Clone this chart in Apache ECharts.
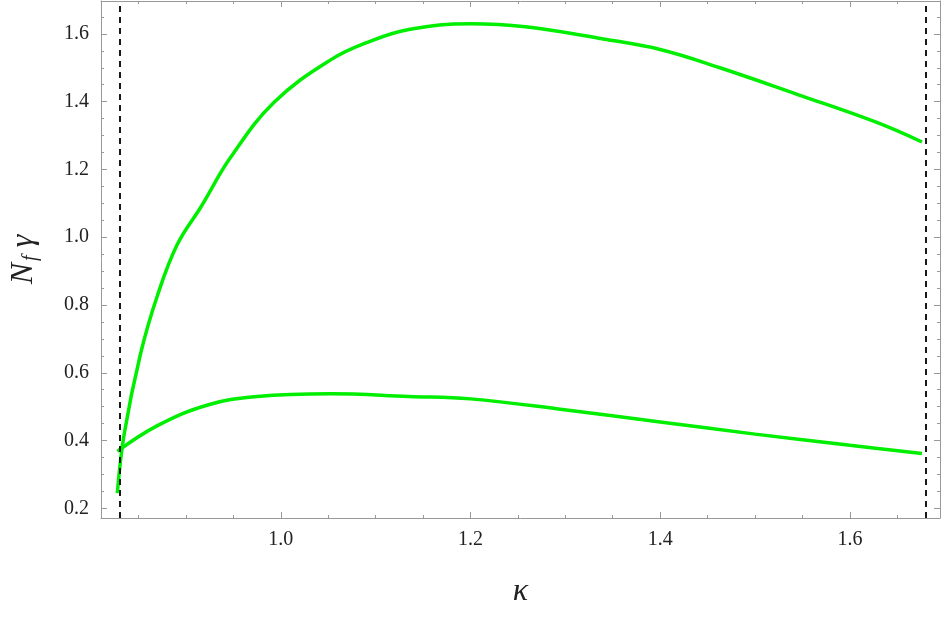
<!DOCTYPE html><html><head><meta charset="utf-8"><script src="https://cdn.jsdelivr.net/npm/echarts@6/dist/echarts.min.js"></script></head><body style="margin:0"><div id="c" style="width:941px;height:618px"></div><script>
const upper=[[0.8277,0.245],[0.835,0.42],[0.852,0.654],[0.870,0.828],[0.891,0.979],[0.916,1.090],[0.947,1.235],[0.993,1.398],[1.053,1.524],[1.094,1.578],[1.135,1.613],[1.2,1.630],[1.258,1.621],[1.34,1.585],[1.4,1.554],[1.463,1.500],[1.545,1.421],[1.627,1.340],[1.676,1.281]];
const lower=[[0.8277,0.368],[0.870,0.444],[0.923,0.505],[0.975,0.530],[1.053,0.538],[1.135,0.530],[1.2,0.523],[1.299,0.491],[1.4,0.455],[1.5,0.419],[1.6,0.386],[1.676,0.362]];
const vlines=[0.8277,1.676];
const xTicks=[1.0,1.2,1.4,1.6];
const yTicks=[0.2,0.4,0.6,0.8,1.0,1.2,1.4,1.6];
const xMinor=[0.85,0.9,0.95,1.05,1.1,1.15,1.25,1.3,1.35,1.45,1.5,1.55,1.65];
const yMinor=[0.25,0.3,0.35,0.45,0.5,0.55,0.65,0.7,0.75,0.85,0.9,0.95,1.05,1.1,1.15,1.25,1.3,1.35,1.45,1.5,1.55,1.65];
const f='Liberation Serif';
const lc={color:'#999'};
function mk(type,pos,min,max,major,minor,labels){
  return [
    {type:'value',position:pos,min,max,axisLine:{lineStyle:lc},splitLine:{show:false},
     axisTick:{inside:true,length:6,customValues:major,lineStyle:lc},
     axisLabel:labels?{customValues:major,fontFamily:f,fontSize:20,color:'#222',margin:12,formatter:v=>v.toFixed(1)}:{show:false}},
    {type:'value',position:pos,min,max,axisLine:{show:false},splitLine:{show:false},
     axisTick:{inside:true,length:3,customValues:minor,lineStyle:lc},axisLabel:{show:false}}
  ];
}
const xs=[...mk('x','bottom',0.8105,1.695,xTicks,xMinor,true),...mk('x','top',0.8105,1.695,xTicks,xMinor,false)];
const ys=[...mk('y','left',0.1715,1.697,yTicks,yMinor,true),...mk('y','right',0.1715,1.697,yTicks,yMinor,false)];
xs[0].name='κ';xs[0].nameLocation='middle';xs[0].nameGap=58;xs[0].nameTextStyle={fontFamily:f,fontStyle:'italic',fontSize:32,color:'#222'};
ys[0].name='{a|N}{s|f}{a| γ}';ys[0].nameLocation='middle';ys[0].nameGap=60;
ys[0].nameTextStyle={rich:{a:{fontFamily:f,fontStyle:'italic',fontSize:32,color:'#222'},s:{fontFamily:f,fontStyle:'italic',fontSize:20,color:'#222',verticalAlign:'bottom',padding:[14,0,0,2]}}};
const c=echarts.init(document.getElementById('c'));
c.setOption({animation:false,grid:{left:100,right:1,top:1,bottom:100},xAxis:xs,yAxis:ys,
series:[{type:'line',data:upper,smooth:0.4,showSymbol:false,lineStyle:{color:'#00ee00',width:3.5},
markLine:{symbol:'none',silent:true,label:{show:false},lineStyle:{color:'#000',type:[6,5],width:1.8},data:vlines.map(v=>({xAxis:v}))}},
{type:'line',data:lower,smooth:0.4,showSymbol:false,lineStyle:{color:'#00ee00',width:3.5}}]});
</script></body></html>
